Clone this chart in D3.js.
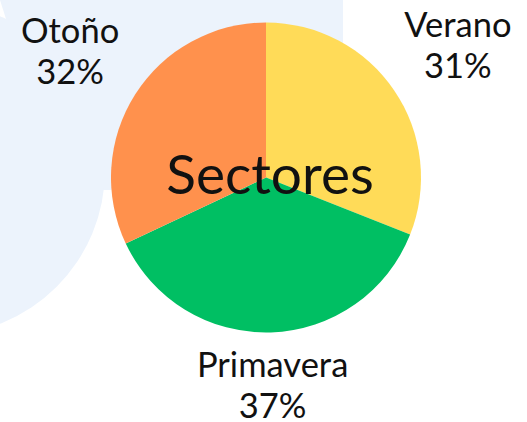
<!DOCTYPE html>
<html>
<head>
<meta charset="utf-8">
<script src="https://cdn.jsdelivr.net/npm/d3@7"></script>
<style>
  html, body { margin: 0; padding: 0; background: #fff; }
  svg { display: block; font-family: "Lato", "Open Sans", sans-serif; }
</style>
</head>
<body>
<div class="chart"></div>
<script>
const categories = ["Verano", "Primavera", "Otoño"];
const values = [31, 37, 32];
const colors = ["#FFDB58", "#00BF63", "#FF914D"];
const title = "Sectores";

const width = 527;
const height = 422;
const cx = 266, cy = 177.5, radius = 155;

const svg = d3.select(".chart").append("svg")
    .attr("width", width)
    .attr("height", height);

// light blue background blob
svg.append("path")
    .attr("d", "M0,0 H343 V110 Q343,190 263,190 H60 Z")
    .attr("fill", "#ECF3FC");
svg.append("circle")
    .attr("cx", -60).attr("cy", 170).attr("r", 165)
    .attr("fill", "#ECF3FC");

const data = categories.map((c, i) => ({ name: c, value: values[i], color: colors[i] }));

const pie = d3.pie().sort(null).value(d => d.value);
const arcs = pie(data);

const arc = d3.arc().innerRadius(0).outerRadius(radius);

// labels sit a bit closer when they hang below the pie
function labelPos(d) {
    const mid = (d.startAngle + d.endAngle) / 2;
    const r = 232 - 22 * Math.max(0, -Math.cos(mid));
    return d3.arc().innerRadius(r).outerRadius(r).centroid(d);
}

const g = svg.append("g").attr("transform", `translate(${cx},${cy})`);

g.selectAll("path")
    .data(arcs)
    .enter()
    .append("path")
    .attr("d", arc)
    .attr("fill", d => d.data.color);

const labels = g.selectAll("text.lbl")
    .data(arcs)
    .enter()
    .append("text")
    .attr("class", "lbl")
    .attr("text-anchor", "middle")
    .attr("font-size", 34.5)
    .attr("fill", "#111")
    .attr("transform", d => `translate(${labelPos(d)})`);

labels.append("tspan")
    .attr("x", 0).attr("y", -10)
    .text(d => d.data.name);
labels.append("tspan")
    .attr("x", 0).attr("y", 31)
    .text(d => d.data.value + "%");

g.append("text")
    .attr("text-anchor", "middle")
    .attr("x", 4)
    .attr("y", 16)
    .attr("font-size", 55)
    .attr("fill", "#111")
    .text(title);
</script>
</body>
</html>
